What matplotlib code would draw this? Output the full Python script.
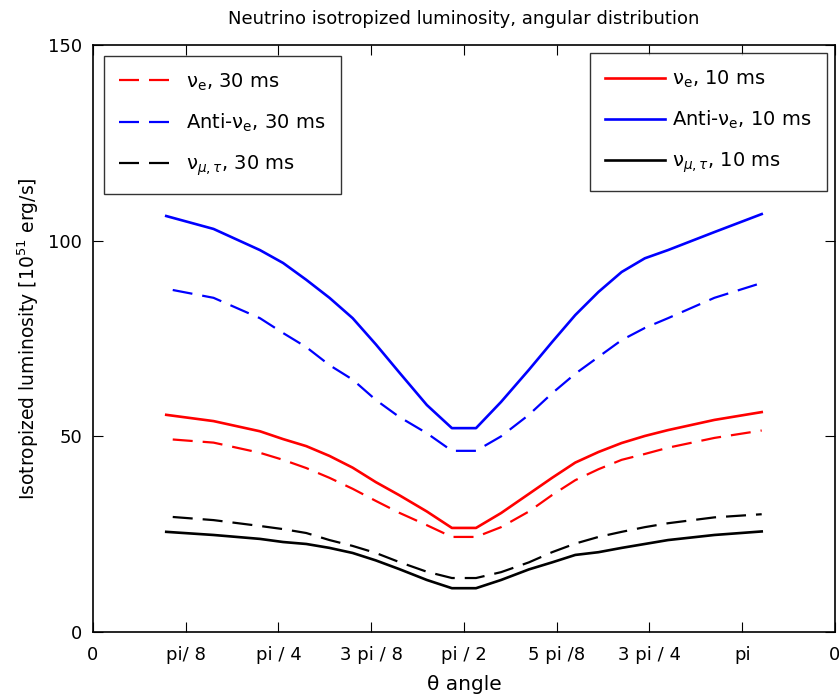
import matplotlib
matplotlib.use('Agg')
from matplotlib import pyplot as plt

plt.rcParams['font.family'] = ['DejaVu Sans']
plt.rcParams['mathtext.fontset'] = 'dejavusans'

# angle positions (tick units) and luminosities [1e51 erg/s]
x_10ms = [0.79, 1.30, 1.80, 2.05, 2.30, 2.55, 2.80, 3.05, 3.30, 3.60, 3.87,
          4.13, 4.40, 4.70, 4.95, 5.20, 5.45, 5.70, 5.95, 6.20, 6.70, 7.21]
x_30ms = [0.86, 1.30, 1.80, 2.05, 2.30, 2.55, 2.80, 3.05, 3.30, 3.60, 3.87,
          4.13, 4.40, 4.70, 4.95, 5.20, 5.45, 5.70, 5.95, 6.20, 6.70, 7.21]

nue_10 = [55.5, 53.9, 51.3, 49.3, 47.5, 45.0, 42.0, 38.3, 35.0, 30.8, 26.6,
          26.6, 30.4, 35.3, 39.4, 43.3, 46.0, 48.3, 50.1, 51.6, 54.2, 56.2]
anue_10 = [106.3, 103.0, 97.6, 94.3, 90.0, 85.4, 80.2, 73.5, 66.4, 58.0, 52.1,
           52.1, 58.8, 67.0, 74.1, 81.0, 86.9, 92.0, 95.5, 97.6, 102.2, 106.8]
numu_10 = [25.6, 24.8, 23.8, 23.0, 22.5, 21.5, 20.2, 18.3, 16.1, 13.3, 11.2,
           11.2, 13.3, 16.0, 17.8, 19.7, 20.4, 21.5, 22.5, 23.5, 24.8, 25.7]

nue_30 = [49.2, 48.4, 45.8, 44.0, 41.9, 39.4, 36.6, 33.5, 30.5, 27.3, 24.3,
          24.3, 26.8, 30.8, 35.0, 38.8, 41.6, 44.0, 45.5, 47.1, 49.6, 51.5]
anue_30 = [87.4, 85.4, 80.2, 76.4, 72.8, 68.2, 64.5, 59.3, 55.0, 50.8, 46.3,
           46.3, 50.0, 55.5, 61.0, 66.0, 70.3, 74.6, 77.7, 80.2, 85.4, 89.2]
numu_30 = [29.4, 28.6, 27.1, 26.3, 25.3, 23.5, 22.0, 20.2, 17.9, 15.4, 13.8,
           13.8, 15.3, 17.8, 20.4, 22.6, 24.3, 25.6, 26.8, 27.8, 29.3, 30.1]

xtick_labels = ['0', 'pi/ 8', 'pi / 4', '3 pi / 8', 'pi / 2', '5 pi /8', '3 pi / 4', 'pi', '0']

fig = plt.figure(figsize=(8.39, 7.0), dpi=100)
ax = fig.add_axes([0.1108, 0.0971, 0.8844, 0.8386])

dash = (9, 4.5)
lw = 1.6
l1, = ax.plot(x_30ms, nue_30, color='red', lw=lw, dashes=dash, label=r'ν$_\mathrm{e}$, 30 ms')
l2, = ax.plot(x_30ms, anue_30, color='blue', lw=lw, dashes=dash, label=r'Anti-ν$_\mathrm{e}$, 30 ms')
l3, = ax.plot(x_30ms, numu_30, color='black', lw=lw, dashes=dash, label=r'ν$_{\mu,\tau}$, 30 ms')
s1, = ax.plot(x_10ms, nue_10, color='red', lw=lw + 0.3, label=r'ν$_\mathrm{e}$, 10 ms')
s2, = ax.plot(x_10ms, anue_10, color='blue', lw=lw + 0.3, label=r'Anti-ν$_\mathrm{e}$, 10 ms')
s3, = ax.plot(x_10ms, numu_10, color='black', lw=lw + 0.3, label=r'ν$_{\mu,\tau}$, 10 ms')

ax.set_xlim(0, 8)
ax.set_ylim(0, 150)
ax.set_xticks(range(9))
ax.set_xticklabels(xtick_labels)
ax.set_yticks([0, 50, 100, 150])
ax.tick_params(direction='in', length=7, top=True, right=True, labelsize=13)
ax.tick_params(axis='x', pad=10)
ax.tick_params(axis='y', pad=8)
for sp in ax.spines.values():
    sp.set_linewidth(1.2)

legkw = dict(fontsize=14, frameon=True, fancybox=False, edgecolor='black',
             handlelength=3.1, labelspacing=1.0, borderpad=0.8, handletextpad=0.35)
leg1 = ax.legend(handles=[l1, l2, l3], loc='upper left', borderaxespad=0.55, **legkw)
leg1.get_frame().set_linewidth(1.0)
ax.add_artist(leg1)
leg2 = ax.legend(handles=[s1, s2, s3], loc='upper right', borderaxespad=0.4, **legkw)
leg2.get_frame().set_linewidth(1.0)

ax.set_title('Neutrino isotropized luminosity, angular distribution', fontsize=13, pad=15)
ax.set_xlabel('θ angle', fontsize=14.5, labelpad=8)
ax.set_ylabel(r'Isotropized luminosity [10$^{51}$ erg/s]', fontsize=13.5, labelpad=5)

fig.savefig('out.png', dpi=100)
